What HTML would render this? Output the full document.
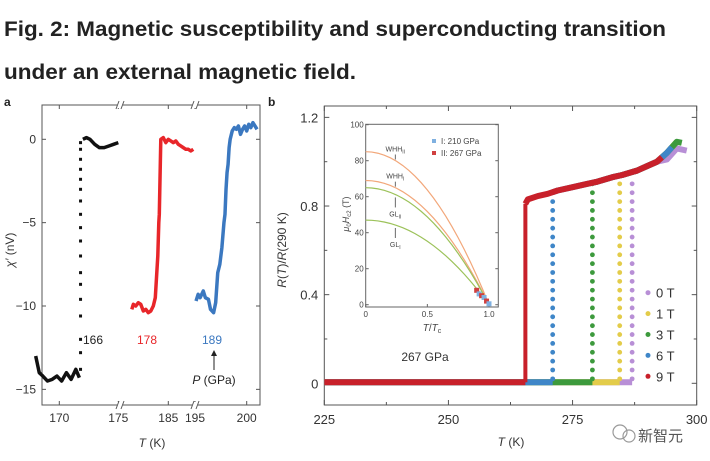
<!DOCTYPE html>
<html><head><meta charset="utf-8"><style>
body{margin:0;background:#fff}
svg{display:block;font-family:"Liberation Sans","Noto Sans CJK SC",sans-serif}
</style></head><body>
<svg id="s" width="710" height="461" viewBox="0 0 710 461">
<text x="4" y="36" font-size="21" font-weight="bold" fill="#222" textLength="662" lengthAdjust="spacingAndGlyphs">Fig. 2: Magnetic susceptibility and superconducting transition</text>
<text x="4" y="79" font-size="21" font-weight="bold" fill="#222" textLength="352" lengthAdjust="spacingAndGlyphs">under an external magnetic field.</text>
<text x="4" y="106" font-size="12" font-weight="bold" fill="#222">a</text>
<text x="268" y="106" font-size="12" font-weight="bold" fill="#222">b</text>
<g id="ga"></g>
<g id="gb"></g>
<g>
<circle cx="620" cy="432" r="7" fill="none" stroke="#999" stroke-width="1.2"/>
<circle cx="629" cy="436" r="6" fill="none" stroke="#999" stroke-width="1.2"/>
<text x="638" y="441" font-size="15" fill="#555">新智元</text>
</g>
</svg>
<script>
// ---- Panel a data ----
const aBlackLowT=[168,168.3,168.6,169,169.4,169.8,170.2,170.6,171,171.4,171.7];
const aBlackLowV=[-13,-14,-14.2,-14.5,-14.4,-14.2,-14.5,-14.0,-14.4,-13.8,-14.3];
const aBlackColT=171.8;
const aBlackColV=[-13.8,-12.8,-12,-10.6,-9.6,-8.7,-8,-7,-6.1,-5.3,-4.5,-3.7,-3,-2.4,-1.8,-1.2,-0.6,-0.2];
const aBlackHighT=[172,172.3,172.6,173,173.4,173.8,174.2,174.6,175];
const aBlackHighV=[0,0.1,0,-0.3,-0.5,-0.5,-0.4,-0.3,-0.2];
const aRedT=[177.7,178,178.5,179,179.5,180,180.5,181,181.5,182,182.4,182.7,182.9,183,183.1,183.2,183.3,183.4,183.5,184,184.5,185,185.5,186,186.5,187,187.5,188,188.5,189,189.5,190];
const aRedV=[-10.2,-9.9,-10,-9.8,-9.9,-10.3,-10.2,-10.4,-10.3,-10,-9.5,-8,-7,-6,-5,-4.5,-3,-1.5,0,0.1,-0.2,0,-0.1,-0.2,-0.1,-0.3,-0.4,-0.5,-0.6,-0.6,-0.7,-0.6];
const aBlueT=[195.1,195.3,195.5,195.8,196,196.3,196.5,196.8,197,197.2,197.4,197.6,197.8,197.9,198,198.1,198.2,198.3,198.4,198.6,198.8,199,199.2,199.4,199.6,199.8,200,200.2,200.4,200.6,200.8,201];
const aBlueV=[-9.7,-9.3,-9.5,-9.1,-9.5,-9.6,-10.2,-10.4,-9.8,-8,-7.5,-6.5,-5,-4.5,-3,-2,-1.5,-0.5,0,0.5,0.7,0.6,0.8,0.3,0.6,0.8,0.5,0.9,0.7,1,0.8,0.6];
const aYTicks=[0,-5,-10,-15];
const aXTicks=[170,175,185,195,200];
const aLabels=["166","178","189"];
// ---- Panel b data ----
const bFields=["0 T","1 T","3 T","6 T","9 T"];
const bTc=[287,284.5,279,271,265.5];
const bEndT=[298,296,297,295,293];
const bNormT=[265.5,266,268,270,272,275,278,280,283,285,288,290,292,294,296,298];
const bNormR=[0.81,0.83,0.845,0.855,0.87,0.885,0.9,0.91,0.93,0.94,0.96,0.98,1.0,1.04,1.09,1.08];
const bColLevels=[0.02,0.06,0.1,0.14,0.18,0.22,0.26,0.3,0.34,0.38,0.42,0.46,0.5,0.54,0.58,0.62,0.66,0.7,0.74,0.78,0.82,0.86,0.9];
const bXTicks=[225,250,275,300];
const bYTicks=[0,0.4,0.8,1.2];
const insetHc0=[85,69,65,47];
const insetNames=["WHH_II","WHH_I","GL_II","GL_I"];
const insetPtT=[0.9,0.92,0.94,0.96,0.98,1.0];
const insetPtH=[8,6,5,4,2,0.5];

const NS="http://www.w3.org/2000/svg";
function mk(p,tag,at){const e=document.createElementNS(NS,tag);for(const k in at)e.setAttribute(k,at[k]);p.appendChild(e);return e;}
function txt(p,x,y,s,sz,fill,anchor){const t=mk(p,'text',{x:x,y:y,'font-size':sz,fill:fill||'#333','text-anchor':anchor||'middle'});t.textContent=s;return t;}

// ---- Panel a ----
const ga=document.getElementById('ga');
const ax0=42,ax1=260,ay0=105,ay1=405;
function aX(T){if(T<=175.2)return 59.3+(T-170)*11.8;if(T<192)return 168.3+(T-185)*5;return 195+(T-195)*10.34;}
function aY(v){return 139.3-v*16.67;}
let r=mk(ga,'rect',{x:ax0,y:ay0,width:ax1-ax0,height:ay1-ay0,fill:'none',stroke:'#555','stroke-width':1});

aYTicks.forEach(v=>{const y=aY(v);mk(ga,'line',{x1:ax0,x2:ax0+4,y1:y,y2:y,stroke:'#555'});mk(ga,'line',{x1:ax1,x2:ax1-4,y1:y,y2:y,stroke:'#555'});
 const t=txt(ga,ax0-6,y+4,(v<0?'−':'')+Math.abs(v),12,'#333','end');});
aXTicks.forEach(v=>{const x=aX(v);mk(ga,'line',{x1:x,x2:x,y1:ay1,y2:ay1-4,stroke:'#555'});mk(ga,'line',{x1:x,x2:x,y1:ay0,y2:ay0+4,stroke:'#555'});
 const t=txt(ga,x,422,String(v),12);});
[120,195].forEach(x=>{[ay0,ay1].forEach(y=>{mk(ga,'rect',{x:x-3,y:y-3,width:6,height:6,fill:'#fff'});
 mk(ga,'line',{x1:x-4,y1:y+4,x2:x-1,y2:y-4,stroke:'#555'});mk(ga,'line',{x1:x+1,y1:y+4,x2:x+4,y2:y-4,stroke:'#555'});});});
function poly(g,T,V,fx,fy,col,w,name){const p=mk(g,'polyline',{points:T.map((t,i)=>fx(t)+','+fy(V[i])).join(' '),fill:'none',stroke:col,'stroke-width':w,'stroke-linejoin':'round'});return p;}
poly(ga,aBlackLowT,aBlackLowV,aX,aY,'#111',3.5,'series-166-low');
aBlackColV.forEach(v=>{const q=mk(ga,'rect',{x:aX(aBlackColT)-1.5,y:aY(v)-1.5,width:3,height:3,fill:'#111'});});
poly(ga,aBlackHighT,aBlackHighV,aX,aY,'#111',3.5,'series-166-high');
poly(ga,aRedT,aRedV,aX,aY,'#e8262a',3.5,'series-178');
poly(ga,aBlueT,aBlueV,aX,aY,'#3b78c0',3.5,'series-189');
[[aLabels[0],93,'#222'],[aLabels[1],147,'#e8262a'],[aLabels[2],212,'#3b78c0']].forEach(d=>{const t=txt(ga,d[1],344,d[0],12,d[2]);});
mk(ga,'line',{x1:214,y1:370,x2:214,y2:353,stroke:'#222'});mk(ga,'path',{d:'M211,356 L214,350 L217,356 Z',fill:'#222'});
let pt=mk(ga,'text',{x:214,y:384,'font-size':12,fill:'#222','text-anchor':'middle'});pt.innerHTML='<tspan font-style="italic">P</tspan> (GPa)';

let ya=mk(ga,'text',{x:0,y:0,'font-size':12,fill:'#333','text-anchor':'middle',transform:'translate(14,250) rotate(-90)'});ya.innerHTML='<tspan font-style="italic">χ′</tspan> (nV)';

let xa=mk(ga,'text',{x:152,y:447,'font-size':12,fill:'#333','text-anchor':'middle'});xa.innerHTML='<tspan font-style="italic">T</tspan> (K)';


// ---- Panel b ----
const gb=document.getElementById('gb');
const bx0=324.3,bx1=696.7,by0=106,by1=405;
function bX(T){return 324.3+(T-225)*4.965;}
function bY(v){return 383.3-v*221.6;}
r=mk(gb,'rect',{x:bx0,y:by0,width:bx1-bx0,height:by1-by0,fill:'none',stroke:'#555'});

bYTicks.forEach(v=>{const y=bY(v);mk(gb,'line',{x1:bx0,x2:bx0+5,y1:y,y2:y,stroke:'#555'});mk(gb,'line',{x1:bx1,x2:bx1-5,y1:y,y2:y,stroke:'#555'});
 const t=txt(gb,bx0-6,y+5,v===0?'0':v.toFixed(1),13,'#333','end');});
[0.2,0.6,1.0].forEach(v=>{const y=bY(v);mk(gb,'line',{x1:bx0,x2:bx0+3,y1:y,y2:y,stroke:'#555'});mk(gb,'line',{x1:bx1,x2:bx1-3,y1:y,y2:y,stroke:'#555'});});
bXTicks.forEach(v=>{const x=bX(v);mk(gb,'line',{x1:x,x2:x,y1:by1,y2:by1-5,stroke:'#555'});mk(gb,'line',{x1:x,x2:x,y1:by0,y2:by0+5,stroke:'#555'});
 const t=txt(gb,x,424,String(v),13);});
[237.5,262.5,287.5].forEach(v=>{const x=bX(v);mk(gb,'line',{x1:x,x2:x,y1:by1,y2:by1-3,stroke:'#555'});mk(gb,'line',{x1:x,x2:x,y1:by0,y2:by0+3,stroke:'#555'});});
function normAt(T){for(let i=1;i<bNormT.length;i++){if(T<=bNormT[i]){const f=(T-bNormT[i-1])/(bNormT[i]-bNormT[i-1]);return bNormR[i-1]+f*(bNormR[i]-bNormR[i-1]);}}return bNormR[bNormR.length-1];}
const bCols=['#b88fd6','#e3cc4a','#3d9a3d','#3f86c8','#c8202a'];
bFields.forEach((f,i)=>{
 const g=mk(gb,'g',{});
 const tc=bTc[i],col=bCols[i];
 mk(g,'line',{x1:bX(225),x2:bX(tc),y1:bY(0.005),y2:bY(0.005),stroke:col,'stroke-width':6});
 const top=normAt(tc);
 if(i===4){mk(g,'line',{x1:bX(tc),x2:bX(tc),y1:bY(0.005),y2:bY(top),stroke:col,'stroke-width':4});}
 else bColLevels.filter(v=>v<top).forEach(v=>{const c=mk(g,'circle',{cx:bX(tc),cy:bY(v),r:2.4,fill:col});});
 const Ts=[tc].concat(bNormT.filter(t=>t>tc&&t<bEndT[i]),[bEndT[i]]);
 const off=i===0?-0.03:0;
 mk(g,'polyline',{points:Ts.map(t=>bX(t)+','+bY(normAt(t)+(t>292?off:0))).join(' '),fill:'none',stroke:col,'stroke-width':6,'stroke-linejoin':'round'});
 const ly=292.7+i*20.9;
 mk(g,'circle',{cx:648,cy:ly,r:2.5,fill:col});
 const t=txt(g,656,ly+5,f,13,'#333','start');
});
let gp=txt(gb,425,361,'267 GPa',12);
let yb=mk(gb,'text',{x:0,y:0,'font-size':12,fill:'#333','text-anchor':'middle',transform:'translate(286,250) rotate(-90)'});yb.innerHTML='<tspan font-style="italic">R</tspan>(<tspan font-style="italic">T</tspan>)/<tspan font-style="italic">R</tspan>(290 K)';

let xb=mk(gb,'text',{x:511,y:446,'font-size':12,fill:'#333','text-anchor':'middle'});xb.innerHTML='<tspan font-style="italic">T</tspan> (K)';


// ---- Inset ----
const gi=mk(gb,'g',{});
const ix0=365.7,ix1=498.3,iy0=124.3,iy1=307;
function iX(t){return 365.7+t*123.3;}
function iY(h){return 304.7-h*1.8;}
mk(gi,'rect',{x:ix0,y:iy0,width:ix1-ix0,height:iy1-iy0,fill:'#fff',stroke:'#666'});
[0,20,40,60,80,100].forEach(v=>{mk(gi,'line',{x1:ix0,x2:ix0+3,y1:iY(v),y2:iY(v),stroke:'#666'});mk(gi,'line',{x1:ix1,x2:ix1-3,y1:iY(v),y2:iY(v),stroke:'#666'});
 const t=txt(gi,ix0-2,iY(v)+3,String(v),8,'#444','end');});
[0,0.5,1.0].forEach(v=>{mk(gi,'line',{x1:iX(v),x2:iX(v),y1:iy1,y2:iy1-3,stroke:'#666'});
 const t=txt(gi,iX(v),317,v===0?'0':v.toFixed(1),8,'#444');});
const labOff=[-9,-9,22,22];
insetHc0.forEach((h,i)=>{const pts=[];for(let k=0;k<=20;k++){const t=k/20;pts.push(iX(t)+','+iY(h*(1-t*t)));}
 const p=mk(gi,'polyline',{points:pts.join(' '),fill:'none',stroke:i<2?'#f2a77a':'#9cc25a','stroke-width':1.2});
 const nm=insetNames[i].split('_');const lx=iX(0.24);const cy=iY(h*(1-0.0576));
 const t=mk(gi,'text',{x:lx,y:cy+labOff[i],'font-size':7,fill:'#444','text-anchor':'middle'});t.innerHTML=nm[0]+'<tspan font-size="5" dy="2">'+nm[1]+'</tspan>';
 
 if(i<2)mk(gi,'line',{x1:lx,x2:lx,y1:cy-6,y2:cy-1,stroke:'#444','stroke-width':0.8});
 else mk(gi,'line',{x1:lx,x2:lx,y1:cy+13,y2:cy+3,stroke:'#444','stroke-width':0.8});});
insetPtT.forEach((t,i)=>{mk(gi,'rect',{x:iX(t)-2.5,y:iY(insetPtH[i])-2.5,width:5,height:5,fill:i%2?'#7fb0e0':'#d04040'});});
mk(gi,'rect',{x:432,y:139,width:4,height:4,fill:'#7fb0e0'});mk(gi,'rect',{x:432,y:151,width:4,height:4,fill:'#d04040'});
let l1=txt(gi,441,144,'I: 210 GPa',8,'#444','start');
let l2=txt(gi,441,156,'II: 267 GPa',8,'#444','start');
let iy=mk(gi,'text',{x:0,y:0,'font-size':9,fill:'#444','text-anchor':'middle',transform:'translate(349,214) rotate(-90)'});iy.innerHTML='<tspan font-style="italic">μ</tspan><tspan font-size="6" dy="2">0</tspan><tspan dy="-2" font-style="italic">H</tspan><tspan font-size="6" dy="2">c2</tspan><tspan dy="-2"> (T)</tspan>';

let ixt=mk(gi,'text',{x:432,y:331,'font-size':10,fill:'#444','text-anchor':'middle'});ixt.innerHTML='<tspan font-style="italic">T</tspan>/<tspan font-style="italic">T</tspan><tspan font-size="7" dy="2">c</tspan>';

</script>
</body></html>
